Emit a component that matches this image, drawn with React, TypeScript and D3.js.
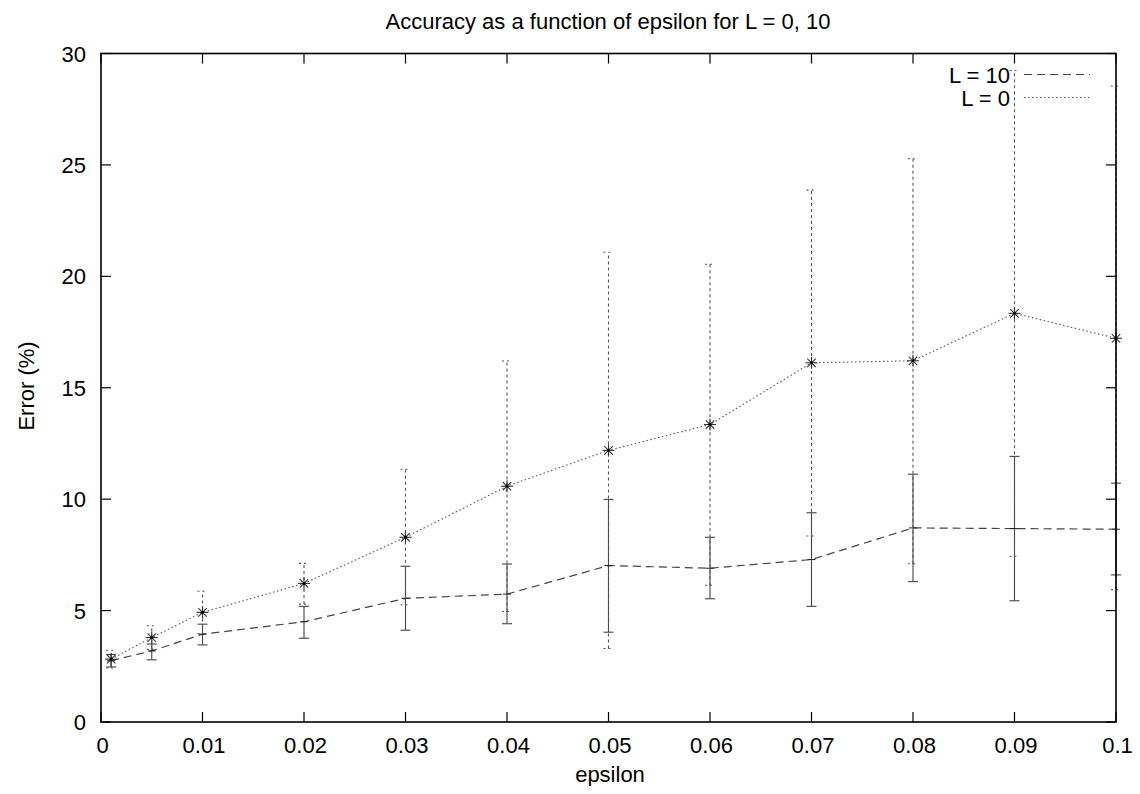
import React, { useEffect, useRef } from 'react';
import * as d3 from 'd3';

// epsilon values where the runs were measured
const epsilons = [0.001, 0.005, 0.01, 0.02, 0.03, 0.04, 0.05, 0.06, 0.07, 0.08, 0.09, 0.1];

// L = 10 : mean, lower, upper
const l10Mean = [2.75, 3.19, 3.94, 4.5, 5.55, 5.74, 7.02, 6.9, 7.29, 8.71, 8.68, 8.65];
const l10Low = [2.47, 2.79, 3.46, 3.76, 4.12, 4.41, 4.03, 5.53, 5.19, 6.3, 5.44, 6.6];
const l10High = [3.03, 3.5, 4.39, 5.19, 6.99, 7.09, 9.99, 8.29, 9.39, 11.12, 11.92, 10.72];

// L = 0 : mean, lower, upper
const l0Mean = [2.82, 3.79, 4.92, 6.22, 8.29, 10.58, 12.19, 13.35, 16.12, 16.21, 18.34, 17.22];
const l0Low = [2.42, 3.26, 3.97, 5.29, 5.26, 4.96, 3.3, 6.14, 8.35, 7.1, 7.44, 5.94];
const l0High = [3.22, 4.32, 5.87, 7.12, 11.34, 16.2, 21.08, 20.54, 23.87, 25.28, 29.24, 28.54];

const xTicks = [0, 0.01, 0.02, 0.03, 0.04, 0.05, 0.06, 0.07, 0.08, 0.09, 0.1];
const yTicks = [0, 5, 10, 15, 20, 25, 30];

const FONT = '"Liberation Sans", Arial, Helvetica, sans-serif';

const App: React.FC = () => {
  const ref = useRef<SVGSVGElement>(null);

  useEffect(() => {
    const svg = d3.select(ref.current);
    svg.selectAll('*').remove();

    const left = 101, right = 1116, top = 53.5, bottom = 722;
    const x = d3.scaleLinear().domain([0, 0.1]).range([left, right]);
    const y = d3.scaleLinear().domain([0, 30]).range([bottom, top]);

    svg.append('rect').attr('width', 1140).attr('height', 794).attr('fill', '#fff');

    // title and axis labels
    svg.append('text')
      .attr('x', 608).attr('y', 29)
      .attr('text-anchor', 'middle')
      .style('font-family', FONT).style('font-size', '22px')
      .text('Accuracy as a function of epsilon for L = 0, 10');

    svg.append('text')
      .attr('x', 610).attr('y', 782)
      .attr('text-anchor', 'middle')
      .style('font-family', FONT).style('font-size', '22px')
      .text('epsilon');

    svg.append('text')
      .attr('transform', `translate(34,386) rotate(-90)`)
      .attr('text-anchor', 'middle')
      .style('font-family', FONT).style('font-size', '22px')
      .text('Error (%)');

    const g = svg.append('g');

    // ticks, inward on all four sides
    xTicks.forEach((t) => {
      g.append('line').attr('x1', x(t)).attr('x2', x(t)).attr('y1', bottom).attr('y2', bottom - 10)
        .attr('stroke', '#000').attr('stroke-width', 1.2);
      g.append('line').attr('x1', x(t)).attr('x2', x(t)).attr('y1', top).attr('y2', top + 10)
        .attr('stroke', '#000').attr('stroke-width', 1.2);
      g.append('text').attr('x', x(t) + 1.5).attr('y', 753)
        .attr('text-anchor', 'middle')
        .style('font-family', FONT).style('font-size', '22px')
        .text(d3.format('~g')(t));
    });
    yTicks.forEach((t) => {
      g.append('line').attr('x1', left).attr('x2', left + 10).attr('y1', y(t)).attr('y2', y(t))
        .attr('stroke', '#000').attr('stroke-width', 1.2);
      g.append('line').attr('x1', right).attr('x2', right - 10).attr('y1', y(t)).attr('y2', y(t))
        .attr('stroke', '#000').attr('stroke-width', 1.2);
      g.append('text').attr('x', 86).attr('y', y(t) + 8)
        .attr('text-anchor', 'end')
        .style('font-family', FONT).style('font-size', '22px')
        .text(String(t));
    });

    const line = d3.line<[number, number]>().x((d) => x(d[0])).y((d) => y(d[1]));
    const cap = 5;

    // L = 10 error bars (solid) and dashed line
    epsilons.forEach((e, i) => {
      const bx = x(e);
      g.append('line').attr('x1', bx).attr('x2', bx).attr('y1', y(l10Low[i])).attr('y2', y(l10High[i]))
        .attr('stroke', '#444').attr('stroke-width', 1.1);
      [l10Low[i], l10High[i]].forEach((v) => {
        g.append('line').attr('x1', bx - cap).attr('x2', bx + cap).attr('y1', y(v)).attr('y2', y(v))
          .attr('stroke', '#444').attr('stroke-width', 1.1);
      });
    });
    g.append('path')
      .attr('d', line(epsilons.map((e, i) => [e, l10Mean[i]] as [number, number])))
      .attr('fill', 'none').attr('stroke', '#444').attr('stroke-width', 1.2)
      .attr('stroke-dasharray', '8,5');
    epsilons.forEach((e, i) => {
      g.append('line').attr('x1', x(e) - 4).attr('x2', x(e) + 4).attr('y1', y(l10Mean[i])).attr('y2', y(l10Mean[i]))
        .attr('stroke', '#222').attr('stroke-width', 1);
    });

    // L = 0 error bars (dashed) and dotted line
    epsilons.forEach((e, i) => {
      const bx = x(e);
      g.append('line').attr('x1', bx).attr('x2', bx).attr('y1', y(l0Low[i])).attr('y2', y(l0High[i]))
        .attr('stroke', '#555').attr('stroke-width', 1.1).attr('stroke-dasharray', '3,3');
      [l0Low[i], l0High[i]].forEach((v) => {
        g.append('line').attr('x1', bx - cap).attr('x2', bx + cap).attr('y1', y(v)).attr('y2', y(v))
          .attr('stroke', '#555').attr('stroke-width', 1.1).attr('stroke-dasharray', '2,3');
      });
    });
    g.append('path')
      .attr('d', line(epsilons.map((e, i) => [e, l0Mean[i]] as [number, number])))
      .attr('fill', 'none').attr('stroke', '#555').attr('stroke-width', 1.1)
      .attr('stroke-dasharray', '1.5,2.5');

    // asterisk markers
    const r = 6;
    epsilons.forEach((e, i) => {
      const cx = x(e), cy = y(l0Mean[i]);
      const star = g.append('g').attr('transform', `translate(${cx},${cy})`);
      [0, 45, 90, 135].forEach((a) => {
        const rad = (a * Math.PI) / 180;
        star.append('line')
          .attr('x1', -r * Math.cos(rad)).attr('y1', -r * Math.sin(rad))
          .attr('x2', r * Math.cos(rad)).attr('y2', r * Math.sin(rad))
          .attr('stroke', '#333').attr('stroke-width', 1.1);
      });
      star.append('circle').attr('r', 1.4).attr('fill', '#000');
    });

    // frame
    g.append('rect').attr('x', left).attr('y', top).attr('width', right - left).attr('height', bottom - top)
      .attr('fill', 'none').attr('stroke', '#000').attr('stroke-width', 1.6);

    // legend
    const legend = [
      { label: 'L = 10', yPos: 82.5, dash: '8,5', color: '#444' },
      { label: 'L = 0', yPos: 105.5, dash: '1.5,2.5', color: '#555' },
    ];
    legend.forEach((l) => {
      g.append('text').attr('x', 1010).attr('y', l.yPos)
        .attr('text-anchor', 'end')
        .style('font-family', FONT).style('font-size', '22px')
        .text(l.label);
      g.append('line').attr('x1', 1024).attr('x2', 1090).attr('y1', l.yPos - 8).attr('y2', l.yPos - 8)
        .attr('stroke', l.color).attr('stroke-width', 1.1).attr('stroke-dasharray', l.dash);
    });
  }, []);

  return <svg ref={ref} width={1140} height={794} style={{ display: 'block', margin: '-8px' }} />;
};

export default App;
